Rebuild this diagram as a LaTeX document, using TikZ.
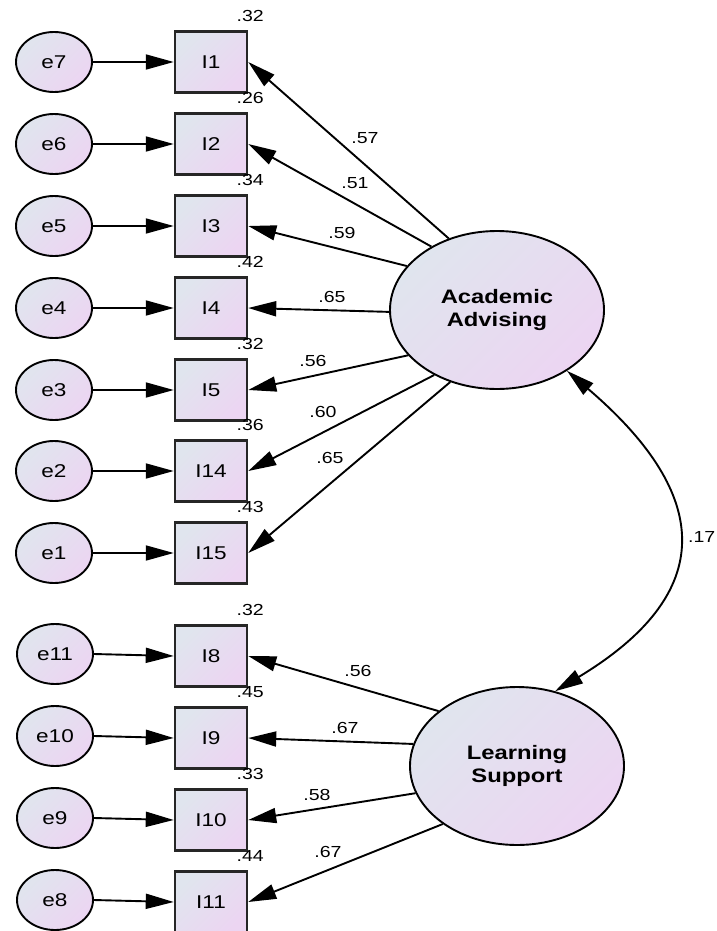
\documentclass[tikz,border=0pt]{standalone}
\usepackage{fontspec}
\setmainfont{Liberation Sans}[FakeStretch=1.22]
\usetikzlibrary{arrows.meta,calc,shapes.geometric}
\definecolor{fillA}{RGB}{224,229,238}
\definecolor{fillB}{RGB}{236,213,242}
\begin{document}
\begin{tikzpicture}[x=1pt,y=-1pt,
  gradfill/.style={top color=fillA,bottom color=fillB,shading angle=45},
  errnode/.style={ellipse,draw=black,line width=1.9pt,gradfill,minimum width=76pt,minimum height=60pt,inner sep=0pt,font=\fontsize{18.5}{20}\selectfont},
  itembox/.style={rectangle,draw=black!85,line width=2.5pt,gradfill,minimum width=72pt,minimum height=61pt,inner sep=0pt,font=\fontsize{18.5}{20}\selectfont},
  latent/.style={ellipse,draw=black,line width=1.9pt,gradfill,minimum width=214pt,minimum height=158pt,inner sep=0pt,align=center,font=\bfseries\fontsize{19.5}{22.5}\selectfont},
  tipshape/.style={Triangle[length=28pt,width=15pt]},
  conn/.style={line width=1.9pt,-{Triangle[length=28pt,width=15pt]}},
  coef/.style={font=\fontsize{16}{18}\selectfont,inner sep=0pt},
]
\useasboundingbox (0,0) rectangle (716,931);

% latent factors
\node[latent] (AA) at (497,310) {Academic\\Advising};
\node[latent] (LS) at (517,766) {Learning\\Support};

% indicators of Academic Advising
\foreach \y/\it/\er/\rs/\ang [count=\i] in
  {62/I1/e7/.32/124, 144/I2/e6/.26/136, 226/I3/e5/.34/154.5, 308/I4/e4/.42/181,
   390/I5/e3/.32/207, 471/I14/e2/.36/226, 553/I15/e1/.43/237}{
  \node[itembox] (box\i) at (211,\y) {\it};
  \node[errnode] (err\i) at (54,\y) {\er};
  \draw[conn] (err\i.east) -- (box\i.west);
  \draw[conn] (AA.\ang) -- (box\i.east);
  \node[coef] at ($(box\i.north east)+(2,-14.5)$) {\rs};
}

% indicators of Learning Support
\foreach \y/\it/\er/\rs/\ang [count=\i from 8] in
  {656/I8/e11/.32/145.6, 738/I9/e10/.45/168, 820/I10/e9/.33/195.6, 902/I11/e8/.44/218}{
  \node[itembox] (box\i) at (211,\y) {\it};
  \node[errnode] (err\i) at (55,\y-2) {\er};
  \draw[conn] (err\i.east) -- (box\i.west);
  \draw[conn] (LS.\ang) -- (box\i.east);
  \node[coef] at ($(box\i.north east)+(2,-14)$) {\rs};
}

% factor loadings
\node[coef] at (365,138) {.57};
\node[coef] at (355,183) {.51};
\node[coef] at (342,233) {.59};
\node[coef] at (332,297) {.65};
\node[coef] at (313,361) {.56};
\node[coef] at (323,412) {.60};
\node[coef] at (330,458) {.65};
\node[coef] at (358,671) {.56};
\node[coef] at (345,728) {.67};
\node[coef] at (317,795) {.58};
\node[coef] at (328,852) {.67};

% factor covariance
\draw[line width=1.9pt,{Triangle[length=28pt,width=15pt]}-{Triangle[length=28pt,width=15pt]}]
  (AA.-41) .. controls (704,488) and (726,588) .. (LS.63);
\node[coef,anchor=west] at (688,537) {.17};
\end{tikzpicture}
\end{document}
